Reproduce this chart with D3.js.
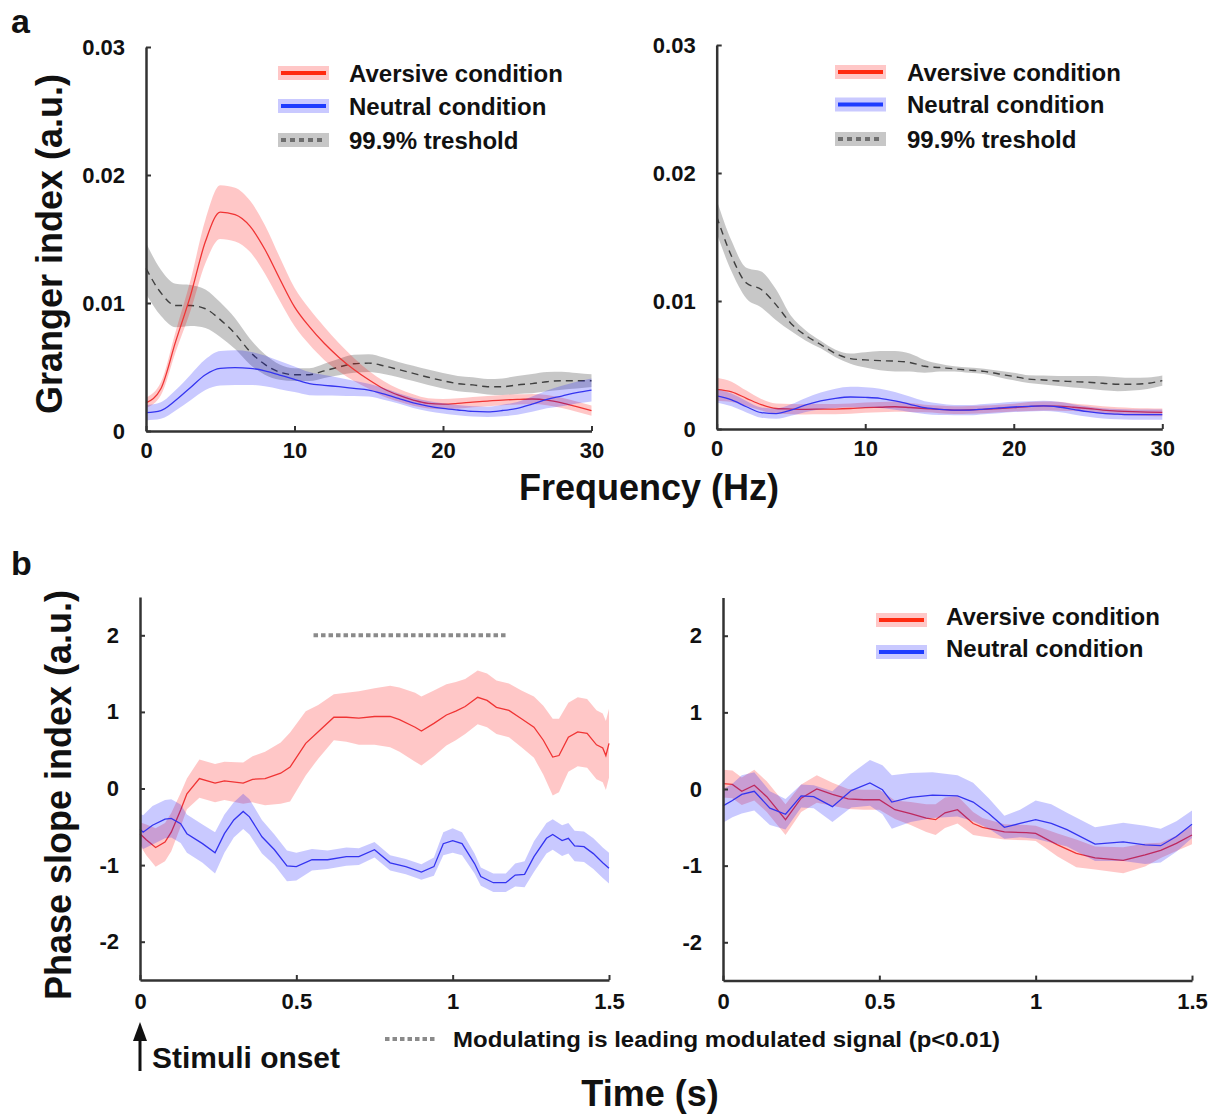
<!DOCTYPE html>
<html>
<head>
<meta charset="utf-8">
<script src="https://cdn.jsdelivr.net/npm/d3@7"></script>
<style>
  html, body { margin: 0; padding: 0; background: #fff; }
  svg { display: block; }
</style>
</head>
<body>
<script>
// ---------------- DATA ----------------
// Panel a: Granger index vs frequency (Hz)
const freqHz = [0,1,2,3,4,5,6,7,8,9,10,11,12,13,14,15,16,17,18,19,20,21,22,23,24,25,26,27,28,29,30];

const aLeftAversive = [0.0022,0.0033,0.0070,0.0106,0.0148,0.0171,0.0169,0.0160,0.0142,0.0119,0.0097,0.00815,0.00685,0.00575,0.0048,0.0040,0.0033,0.0028,0.00242,0.00216,0.0021,0.00216,0.00226,0.00234,0.00242,0.00247,0.0025,0.00242,0.0022,0.0019,0.0016];
const aLeftAversiveErr = [0.0004,0.0005,0.0008,0.0012,0.0017,0.0021,0.0021,0.0020,0.0019,0.0017,0.0015,0.0014,0.0013,0.0011,0.0009,0.0007,0.0006,0.0005,0.00045,0.0004,0.0004,0.0004,0.0004,0.0004,0.0004,0.0004,0.0004,0.0004,0.0004,0.0004,0.0004];
const aLeftNeutral = [0.00143,0.0016,0.0024,0.0034,0.0044,0.0049,0.00495,0.0049,0.0047,0.00437,0.00404,0.0037,0.00357,0.00346,0.00333,0.0032,0.0029,0.00255,0.0022,0.00195,0.00177,0.00164,0.00153,0.0015,0.0016,0.00177,0.0021,0.00247,0.00273,0.0030,0.0032];
const aLeftNeutralErr = [0.0006,0.00065,0.0008,0.0010,0.0012,0.00135,0.00135,0.0013,0.0012,0.0011,0.0010,0.0009,0.0008,0.0007,0.0006,0.0005,0.00045,0.0004,0.0004,0.0004,0.0004,0.0004,0.0004,0.0004,0.00045,0.0005,0.0006,0.0007,0.0008,0.00085,0.0009];
const aLeftThreshold = [0.0127,0.0108,0.0098,0.0098,0.00955,0.0087,0.0076,0.0062,0.0052,0.0046,0.0044,0.0044,0.0047,0.0050,0.00525,0.0053,0.0051,0.0048,0.0045,0.0042,0.00393,0.0037,0.0036,0.00346,0.00346,0.0036,0.0037,0.00385,0.00393,0.00393,0.00393];
const aLeftThresholdErr = [0.0020,0.0018,0.0017,0.0016,0.0015,0.00135,0.0012,0.0010,0.0008,0.0006,0.0005,0.0005,0.00055,0.00065,0.0007,0.0007,0.00065,0.0006,0.0006,0.0006,0.0006,0.0006,0.0006,0.0006,0.00065,0.0007,0.00075,0.00075,0.0007,0.0006,0.0005];

const aRightAversive = [0.0031,0.0029,0.0024,0.0019,0.0016,0.00156,0.00154,0.00155,0.00156,0.0016,0.00167,0.0017,0.00174,0.00168,0.0016,0.00154,0.00148,0.0015,0.00154,0.0016,0.00167,0.00175,0.0018,0.00178,0.0017,0.0016,0.00148,0.0014,0.00135,0.00132,0.0013];
const aRightAversiveErr = [0.0009,0.0008,0.0006,0.00045,0.0004,0.0004,0.0004,0.0004,0.0004,0.0004,0.0004,0.0004,0.0004,0.00035,0.0003,0.0003,0.0003,0.0003,0.0003,0.0003,0.0003,0.00035,0.00035,0.00035,0.0003,0.0003,0.0003,0.0003,0.0003,0.0003,0.0003];
const aRightNeutral = [0.00258,0.00227,0.00174,0.00128,0.0012,0.00148,0.00188,0.0022,0.0024,0.0025,0.00247,0.0024,0.0022,0.00193,0.00167,0.00154,0.00148,0.00148,0.00156,0.00164,0.00172,0.00177,0.0018,0.00172,0.00154,0.00135,0.00122,0.00116,0.00112,0.00112,0.00112];
const aRightNeutralErr = [0.0005,0.0005,0.00045,0.0004,0.0004,0.00045,0.00055,0.00065,0.00075,0.0008,0.0008,0.00075,0.0007,0.0006,0.0005,0.00045,0.0004,0.0004,0.0004,0.0004,0.0004,0.0004,0.0004,0.0004,0.0004,0.0004,0.0004,0.0004,0.0004,0.0004,0.0004];
const aRightThreshold = [0.0166,0.0135,0.0114,0.0109,0.0097,0.00825,0.0073,0.0066,0.0059,0.0055,0.0054,0.00534,0.0053,0.0052,0.0049,0.0048,0.0047,0.0046,0.0045,0.0043,0.0041,0.0039,0.00383,0.00375,0.0037,0.00365,0.00357,0.0035,0.0035,0.00357,0.00378];
const aRightThresholdErr = [0.0013,0.0012,0.0012,0.0014,0.0012,0.0006,0.0004,0.0003,0.0003,0.0004,0.0006,0.00075,0.0008,0.0007,0.0005,0.0003,0.0002,0.0002,0.0002,0.00025,0.0003,0.0003,0.00035,0.0004,0.00045,0.0005,0.00055,0.00055,0.0005,0.00045,0.0004];

// Panel b: Phase slope index vs time (s)
const bLeftAversiveTime = [0,0.02,0.05,0.08,0.1,0.13,0.15,0.19,0.24,0.27,0.33,0.36,0.4,0.45,0.48,0.53,0.57,0.62,0.66,0.7,0.75,0.8,0.83,0.88,0.9,0.94,0.98,1.01,1.04,1.08,1.11,1.14,1.18,1.22,1.26,1.29,1.32,1.34,1.37,1.4,1.43,1.46,1.48,1.49,1.5];
const bLeftAversive = [-0.59,-0.67,-0.77,-0.7,-0.57,-0.28,-0.07,0.13,0.07,0.1,0.07,0.12,0.13,0.2,0.28,0.59,0.74,0.93,0.93,0.92,0.94,0.94,0.9,0.8,0.75,0.85,0.96,1.01,1.07,1.19,1.15,1.06,1.02,0.91,0.8,0.63,0.41,0.43,0.67,0.74,0.72,0.57,0.53,0.43,0.59];
const bLeftAversiveErr = [0.15,0.2,0.25,0.25,0.25,0.22,0.2,0.25,0.25,0.25,0.27,0.3,0.35,0.4,0.45,0.42,0.35,0.3,0.32,0.35,0.37,0.4,0.42,0.45,0.45,0.43,0.4,0.38,0.36,0.35,0.35,0.35,0.35,0.37,0.4,0.45,0.5,0.48,0.45,0.45,0.45,0.45,0.45,0.45,0.45];
const bLeftNeutralTime = [0,0.01,0.04,0.08,0.1,0.13,0.15,0.2,0.24,0.27,0.3,0.33,0.35,0.39,0.43,0.47,0.5,0.55,0.6,0.66,0.7,0.75,0.8,0.85,0.9,0.94,0.97,1.0,1.03,1.07,1.09,1.13,1.17,1.2,1.23,1.26,1.3,1.32,1.35,1.37,1.39,1.42,1.45,1.48,1.5];
const bLeftNeutral = [-0.53,-0.57,-0.48,-0.4,-0.39,-0.46,-0.59,-0.72,-0.84,-0.59,-0.41,-0.3,-0.37,-0.63,-0.8,-1.01,-1.02,-0.93,-0.93,-0.89,-0.89,-0.8,-0.97,-1.02,-1.09,-1.02,-0.72,-0.68,-0.72,-0.98,-1.15,-1.23,-1.23,-1.13,-1.12,-0.89,-0.65,-0.6,-0.68,-0.65,-0.75,-0.76,-0.85,-0.97,-1.04];
const bLeftNeutralErr = [0.2,0.22,0.25,0.25,0.25,0.25,0.25,0.25,0.27,0.25,0.23,0.23,0.23,0.22,0.2,0.2,0.18,0.14,0.12,0.12,0.11,0.1,0.1,0.1,0.1,0.12,0.15,0.16,0.15,0.13,0.12,0.12,0.12,0.15,0.17,0.2,0.2,0.2,0.2,0.2,0.2,0.2,0.2,0.2,0.2];

const bRightAversiveTime = [0,0.03,0.06,0.1,0.14,0.2,0.25,0.3,0.35,0.4,0.45,0.5,0.55,0.6,0.65,0.68,0.71,0.75,0.8,0.83,0.9,0.97,1.0,1.07,1.13,1.19,1.28,1.35,1.4,1.45,1.5];
const bRightAversive = [0.07,0.06,-0.03,0.05,-0.1,-0.4,-0.12,0,-0.07,-0.13,-0.14,-0.14,-0.27,-0.32,-0.38,-0.4,-0.31,-0.27,-0.45,-0.5,-0.56,-0.57,-0.58,-0.73,-0.84,-0.9,-0.93,-0.86,-0.8,-0.71,-0.6];
const bRightAversiveErr = [0.18,0.18,0.18,0.2,0.2,0.2,0.18,0.18,0.15,0.13,0.13,0.13,0.12,0.15,0.18,0.2,0.2,0.18,0.15,0.12,0.1,0.1,0.1,0.15,0.18,0.15,0.17,0.15,0.1,0.1,0.12];
const bRightNeutralTime = [0,0.03,0.06,0.1,0.15,0.2,0.25,0.29,0.35,0.41,0.47,0.51,0.54,0.6,0.67,0.75,0.8,0.85,0.9,0.95,1.0,1.05,1.1,1.19,1.28,1.35,1.4,1.45,1.5];
const bRightNeutral = [-0.22,-0.15,-0.07,-0.03,-0.25,-0.33,-0.09,-0.1,-0.23,-0.02,0.08,-0.01,-0.17,-0.11,-0.08,-0.09,-0.17,-0.32,-0.5,-0.45,-0.4,-0.45,-0.53,-0.72,-0.69,-0.73,-0.74,-0.62,-0.46];
const bRightNeutralErr = [0.22,0.22,0.25,0.25,0.22,0.2,0.15,0.15,0.2,0.22,0.3,0.32,0.35,0.32,0.3,0.27,0.25,0.2,0.15,0.18,0.25,0.25,0.22,0.22,0.25,0.25,0.22,0.2,0.18];

// significance interval (modulating leading modulated), drawn at PSI = 2
const bSigInterval = [0.555, 1.177];
const bSigLevel = 2;

// ticks & labels
const aXTicks = [0, 10, 20, 30];
const aYTicks = [0, 0.01, 0.02, 0.03];
const bXTicks = [0, 0.5, 1, 1.5];
const bYTicks = [-2, -1, 0, 1, 2];
const legendLabelsA = ["Aversive condition", "Neutral condition", "99.9% treshold"];
const legendLabelsB = ["Aversive condition", "Neutral condition"];

// ---------------- DRAWING ----------------
const FONT = "'Liberation Sans', Arial, Helvetica, sans-serif";
const RED = "#f03434", BLUE = "#3434f0";
const RED_BAND = "rgba(255,0,0,0.22)", BLUE_BAND = "rgba(0,0,255,0.21)", GRAY_BAND = "rgba(0,0,0,0.22)";

const svg = d3.select("body").append("svg").attr("width", 1218).attr("height", 1116);

function drawAxes(x, y, xTicks, yTicks, yFmt, xPad) {
  const x0 = x.range()[0], y0 = y.range()[0];
  const gx = svg.append("g").attr("transform", `translate(0,${y0})`)
    .call(d3.axisBottom(x).tickValues(xTicks).tickSizeInner(-5).tickSizeOuter(0)
      .tickPadding(xPad).tickFormat(d => String(d)));
  const gy = svg.append("g").attr("transform", `translate(${x0},0)`)
    .call(d3.axisLeft(y).tickValues(yTicks).tickSizeInner(-5).tickSizeOuter(0)
      .tickPadding(21).tickFormat(yFmt));
  [gx, gy].forEach(g => {
    g.select(".domain").attr("stroke", "#333").attr("stroke-width", 2.5);
    g.selectAll(".tick line").attr("stroke", "#333").attr("stroke-width", 2);
    g.selectAll(".tick text").attr("font-family", FONT).attr("font-weight", "bold")
      .attr("font-size", 22).attr("fill", "#111");
  });
}

function drawSeries(xs, mean, err, x, y, curve, bandFill, lineColor, dashed) {
  const pts = xs.map((t, i) => ({ t, m: mean[i], e: err[i] }));
  const area = d3.area().curve(curve).x(d => x(d.t)).y0(d => y(d.m - d.e)).y1(d => y(d.m + d.e));
  const line = d3.line().curve(curve).x(d => x(d.t)).y(d => y(d.m));
  svg.append("path").datum(pts).attr("d", area).attr("fill", bandFill).attr("stroke", "none");
  const p = svg.append("path").datum(pts).attr("d", line).attr("fill", "none")
    .attr("stroke", lineColor).attr("stroke-width", dashed ? 1.4 : 1.3);
  if (dashed) p.attr("stroke-dasharray", "7,5");
}

function drawLegend(x0, xText, rows, labels, styles, baseOff) {
  labels.forEach((lab, i) => {
    const cy = rows[i], st = styles[i];
    svg.append("rect").attr("x", x0).attr("y", cy - 7).attr("width", 51).attr("height", 14).attr("fill", st.band);
    const l = svg.append("line").attr("x1", x0 + 3).attr("x2", x0 + 48).attr("y1", cy).attr("y2", cy)
      .attr("stroke", st.line).attr("stroke-width", 4);
    if (st.dash) l.attr("stroke-dasharray", st.dash);
    svg.append("text").attr("x", xText).attr("y", cy + baseOff).text(lab)
      .attr("font-family", FONT).attr("font-weight", "bold").attr("font-size", 24).attr("fill", "#111");
  });
}

const legStyles = [
  { band: RED_BAND, line: "#ff2a10" },
  { band: BLUE_BAND, line: "#1e3cff" },
  { band: GRAY_BAND, line: "#6e6e6e", dash: "5,4" }
];

const aFmt = d => d === 0 ? "0" : d.toFixed(2);

// ---- Panel a left ----
const aLx = d3.scaleLinear().domain([0, 30]).range([146, 591.5]);
const aLy = d3.scaleLinear().domain([0, 0.03]).range([431, 47]);
drawSeries(freqHz, aLeftThreshold, aLeftThresholdErr, aLx, aLy, d3.curveMonotoneX, GRAY_BAND, "#404040", true);
drawSeries(freqHz, aLeftAversive, aLeftAversiveErr, aLx, aLy, d3.curveMonotoneX, RED_BAND, RED, false);
drawSeries(freqHz, aLeftNeutral, aLeftNeutralErr, aLx, aLy, d3.curveMonotoneX, BLUE_BAND, BLUE, false);
drawAxes(aLx, aLy, aXTicks, aYTicks, aFmt, 11);
drawLegend(278, 349, [73, 106, 140], legendLabelsA, legStyles, 8.5);

// ---- Panel a right ----
const aRx = d3.scaleLinear().domain([0, 30]).range([716.7, 1162.3]);
const aRy = d3.scaleLinear().domain([0, 0.03]).range([429, 45]);
drawSeries(freqHz, aRightThreshold, aRightThresholdErr, aRx, aRy, d3.curveMonotoneX, GRAY_BAND, "#404040", true);
drawSeries(freqHz, aRightAversive, aRightAversiveErr, aRx, aRy, d3.curveMonotoneX, RED_BAND, RED, false);
drawSeries(freqHz, aRightNeutral, aRightNeutralErr, aRx, aRy, d3.curveMonotoneX, BLUE_BAND, BLUE, false);
drawAxes(aRx, aRy, aXTicks, aYTicks, aFmt, 11);
drawLegend(835, 907, [72, 104.5, 139], legendLabelsA, legStyles, 8.5);

// ---- Panel b left ----
const bLx = d3.scaleLinear().domain([0, 1.5]).range([140, 609]);
const bLy = d3.scaleLinear().domain([-2.5, 2.5]).range([980, 597]);
drawSeries(bLeftAversiveTime, bLeftAversive, bLeftAversiveErr, bLx, bLy, d3.curveLinear, RED_BAND, RED, false);
drawSeries(bLeftNeutralTime, bLeftNeutral, bLeftNeutralErr, bLx, bLy, d3.curveLinear, BLUE_BAND, BLUE, false);
svg.append("line").attr("x1", bLx(bSigInterval[0])).attr("x2", bLx(bSigInterval[1]))
  .attr("y1", bLy(bSigLevel)).attr("y2", bLy(bSigLevel))
  .attr("stroke", "#8a8a8a").attr("stroke-width", 4).attr("stroke-dasharray", "4.5,3");
drawAxes(bLx, bLy, bXTicks, bYTicks, d => String(d), 13);

// ---- Panel b right ----
const bRx = d3.scaleLinear().domain([0, 1.5]).range([723, 1192]);
const bRy = d3.scaleLinear().domain([-2.5, 2.5]).range([980.6, 597.4]);
drawSeries(bRightAversiveTime, bRightAversive, bRightAversiveErr, bRx, bRy, d3.curveLinear, RED_BAND, RED, false);
drawSeries(bRightNeutralTime, bRightNeutral, bRightNeutralErr, bRx, bRy, d3.curveLinear, BLUE_BAND, BLUE, false);
drawAxes(bRx, bRy, bXTicks, bYTicks, d => String(d), 13);
drawLegend(876, 946, [620, 652], legendLabelsB, legStyles, 5);

// ---- Titles & annotations ----
function txt(x, y, s, size, opts = {}) {
  const t = svg.append("text").attr("x", x).attr("y", y).text(s)
    .attr("font-family", FONT).attr("font-weight", "bold").attr("font-size", size)
    .attr("fill", "#111").attr("text-anchor", opts.anchor || "start");
  if (opts.rotate) t.attr("transform", `rotate(-90,${x},${y})`);
  if (opts.len) t.attr("textLength", opts.len).attr("lengthAdjust", "spacingAndGlyphs");
  return t;
}
txt(11, 33, "a", 34);
txt(11, 575, "b", 34);
txt(62, 244, "Granger index (a.u.)", 36, { anchor: "middle", rotate: true });
txt(649, 500, "Frequency (Hz)", 36, { anchor: "middle" });
txt(71, 795, "Phase slope index (a.u.)", 36, { anchor: "middle", rotate: true });
txt(650, 1106, "Time (s)", 36, { anchor: "middle" });

// stimuli onset arrow
svg.append("line").attr("x1", 140).attr("x2", 140).attr("y1", 1071).attr("y2", 1036)
  .attr("stroke", "#111").attr("stroke-width", 3);
svg.append("path").attr("d", "M133,1041 L147,1041 L140,1022 Z").attr("fill", "#111");
txt(152, 1068, "Stimuli onset", 29, { len: 188 });

// significance legend
svg.append("line").attr("x1", 385).attr("x2", 435).attr("y1", 1039).attr("y2", 1039)
  .attr("stroke", "#8a8a8a").attr("stroke-width", 4).attr("stroke-dasharray", "4.5,3");
txt(453, 1047, "Modulating is leading modulated signal (p<0.01)", 22, { len: 547 });
</script>
</body>
</html>
